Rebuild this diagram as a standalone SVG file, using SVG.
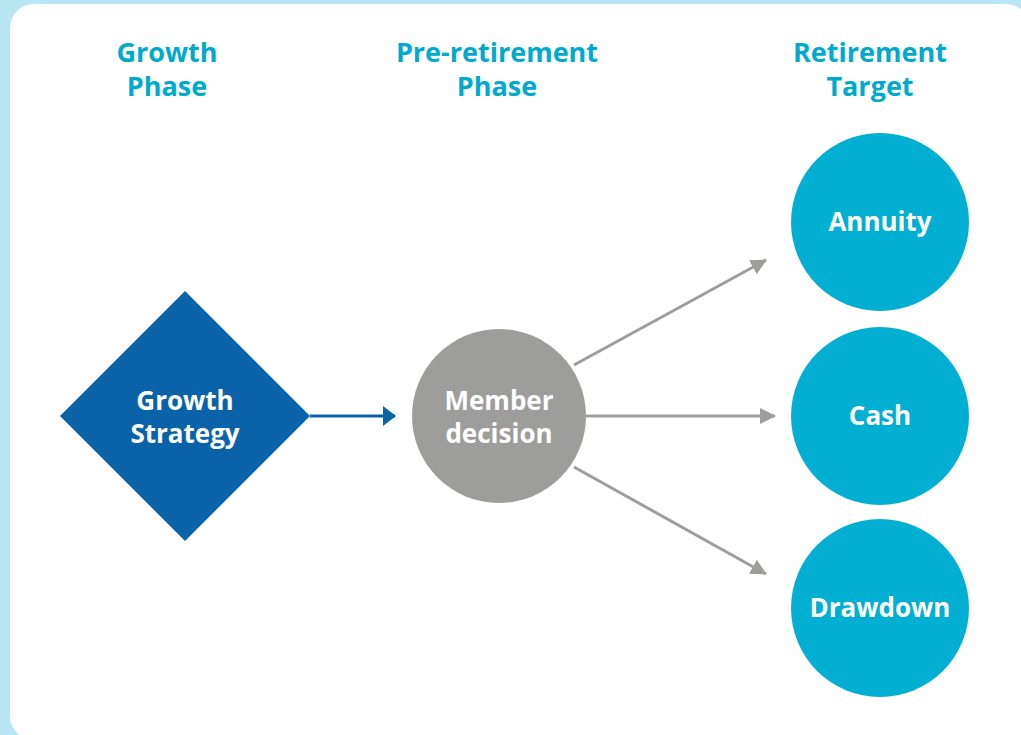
<svg xmlns="http://www.w3.org/2000/svg" width="1021" height="735" viewBox="0 0 1021 735">
<style>
.hdr{font-family:"Open Sans","Liberation Sans",sans-serif;font-weight:700;font-size:27px;fill:#00a9ce;text-anchor:middle}
.lbl{font-family:"Open Sans","Liberation Sans",sans-serif;font-weight:700;font-size:26px;fill:#ffffff;text-anchor:middle}
.gline{stroke:#9d9d9c;stroke-width:3;fill:none}
.bline{stroke:#0a63a8;stroke-width:3;fill:none}
.target{fill:#00afd1}
</style>
<defs>
<marker id="ag" viewBox="0 0 16 16" refX="15" refY="8" markerWidth="16" markerHeight="16" markerUnits="userSpaceOnUse" orient="auto"><path d="M0,0 L16,8 L0,16 z" fill="#9d9d9c"/></marker>
<marker id="ab" viewBox="0 0 13 20" refX="12" refY="10" markerWidth="13" markerHeight="20" markerUnits="userSpaceOnUse" orient="auto"><path d="M0,0 L13,10 L0,20 z" fill="#0a63a8"/></marker>
</defs>
<rect x="0" y="0" width="1021" height="735" fill="#b8e6f2"/>
<rect x="10" y="4" width="1020" height="736" rx="24" fill="#ffffff"/>
<g id="headers">
<text class="hdr" x="167" y="62">Growth</text>
<text class="hdr" x="167" y="96">Phase</text>
<text class="hdr" x="497" y="62">Pre-retirement</text>
<text class="hdr" x="497" y="96">Phase</text>
<text class="hdr" x="870" y="62">Retirement</text>
<text class="hdr" x="870" y="96">Target</text>
</g>
<g id="connectors">
<line class="bline" x1="310" y1="416" x2="395" y2="416" marker-end="url(#ab)"/>
<line class="gline" x1="574" y1="365" x2="766" y2="260" marker-end="url(#ag)"/>
<line class="gline" x1="586" y1="416" x2="775" y2="416" marker-end="url(#ag)"/>
<line class="gline" x1="574" y1="467" x2="766" y2="574" marker-end="url(#ag)"/>
</g>
<g id="growth-strategy">
<polygon points="185,291 310,416 185,541 60,416" fill="#0a63a8"/>
<text class="lbl" x="185" y="410">Growth</text>
<text class="lbl" x="185" y="443">Strategy</text>
</g>
<g id="member-decision">
<circle cx="499" cy="416" r="87" fill="#9d9d9c"/>
<text class="lbl" x="499" y="410">Member</text>
<text class="lbl" x="499" y="443">decision</text>
</g>
<g id="annuity">
<circle class="target" cx="880" cy="222" r="89"/>
<text class="lbl" x="880" y="231">Annuity</text>
</g>
<g id="cash">
<circle class="target" cx="880" cy="416" r="89"/>
<text class="lbl" x="880" y="425">Cash</text>
</g>
<g id="drawdown">
<circle class="target" cx="880" cy="608" r="89"/>
<text class="lbl" x="880" y="617">Drawdown</text>
</g>
</svg>
